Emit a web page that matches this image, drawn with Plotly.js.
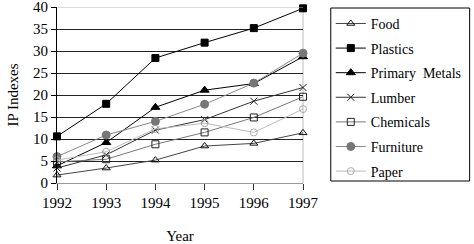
<!DOCTYPE html>
<html>
<head>
<meta charset="utf-8">
<script src="https://cdn.plot.ly/plotly-3.0.1.min.js"></script>
<style>html,body{margin:0;padding:0;background:#fff;}#chart{width:474px;height:244px;}</style>
</head>
<body>
<div id="chart"></div>
<script>
var years = [1992, 1993, 1994, 1995, 1996, 1997];
var seriesNames = ["Food", "Plastics", "Primary  Metals", "Lumber", "Chemicals", "Furniture", "Paper"];
var food = [1.8, 3.4, 5.2, 8.4, 9.0, 11.4];
var plastics = [10.6, 18.0, 28.4, 31.9, 35.2, 39.7];
var primaryMetals = [3.9, 9.2, 17.2, 21.1, 22.6, 28.7];
var lumber = [3.4, 6.4, 12.0, 14.4, 18.6, 21.7];
var chemicals = [4.8, 5.4, 8.8, 11.5, 14.9, 19.6];
var furniture = [6.0, 10.9, 14.0, 17.9, 22.7, 29.5];
var paper = [5.2, 7.1, 12.3, 13.6, 11.5, 16.8];
var yTicks = [0, 5, 10, 15, 20, 25, 30, 35, 40];

var values = [food, plastics, primaryMetals, lumber, chemicals, furniture, paper];
var styles = [
  {lc: "#444", sym: "triangle-up-open", mc: "#111", ms: 7},
  {lc: "#000", sym: "square", mc: "#000", ms: 7},
  {lc: "#000", sym: "triangle-up", mc: "#000", ms: 8},
  {lc: "#333", sym: "x-thin-open", mc: "#222", ms: 7},
  {lc: "#777", sym: "square-open", mc: "#222", ms: 7},
  {lc: "#888", sym: "circle", mc: "#777", ms: 8},
  {lc: "#bbb", sym: "circle-open", mc: "#aaa", ms: 7}
];
var serif = "'Liberation Serif', 'Times New Roman', serif";
var traces = seriesNames.map(function(n, i) {
  var s = styles[i];
  return {
    x: years, y: values[i], name: n, type: "scatter", mode: "lines+markers",
    legendgroup: "g" + i, cliponaxis: false,
    line: {color: s.lc, width: 1},
    marker: {symbol: s.sym, color: s.mc, size: s.ms, line: {color: s.mc, width: 1}}
  };
});

var layout = {
  width: 474, height: 244,
  margin: {l: 57, r: 169, t: 7, b: 61},
  paper_bgcolor: "#fff", plot_bgcolor: "#fff",
  font: {family: serif, size: 13, color: "#000"},
  showlegend: true,
  legend: {
    x: 1.113, y: 0.995, xanchor: "left", yanchor: "top",
    borderwidth: 0, bgcolor: "rgba(0,0,0,0)",
    traceorder: "grouped", tracegroupgap: 3.4,
    font: {family: serif, size: 14, color: "#000"}
  },
  xaxis: {
    range: [1992, 1997], tickvals: years, ticktext: years.map(String),
    showgrid: false, zeroline: false,
    showline: true, linecolor: "#999", linewidth: 1,
    ticks: "outside", ticklen: 6, tickcolor: "#333",
    tickfont: {family: serif, size: 15},
    ticklabeloverflow: "allow",
    title: {text: "Year", font: {family: serif, size: 15}, standoff: 22},
    automargin: false
  },
  yaxis: {
    range: [0, 40], tickvals: yTicks,
    showgrid: true, gridcolor: "#222", gridwidth: 1,
    zeroline: false,
    showline: true, linecolor: "#000", linewidth: 1,
    ticks: "outside", ticklen: 5, tickcolor: "#000",
    tickfont: {family: serif, size: 15},
    ticklabeloverflow: "allow",
    title: {text: "IP Indexes", font: {family: serif, size: 15}, standoff: 10},
    automargin: false
  },
  shapes: [
    {type: "line", xref: "paper", yref: "y", x0: 0, x1: 1, y0: 40, y1: 40, line: {color: "#bbb", width: 1}},
    {type: "line", xref: "paper", yref: "paper", x0: 1, x1: 1, y0: 0, y1: 1, line: {color: "#bbb", width: 1}, layer: "below"},
    {type: "rect", xref: "paper", yref: "paper", x0: (333 - 57) / 248, x1: (473 - 57) / 248, y0: (183 - 181) / 176, y1: (183 - 8) / 176, line: {color: "#000", width: 1}, fillcolor: "rgba(0,0,0,0)", layer: "above"}
  ]
};
Plotly.newPlot("chart", traces, layout, {displayModeBar: false, staticPlot: true});
</script>
</body>
</html>
